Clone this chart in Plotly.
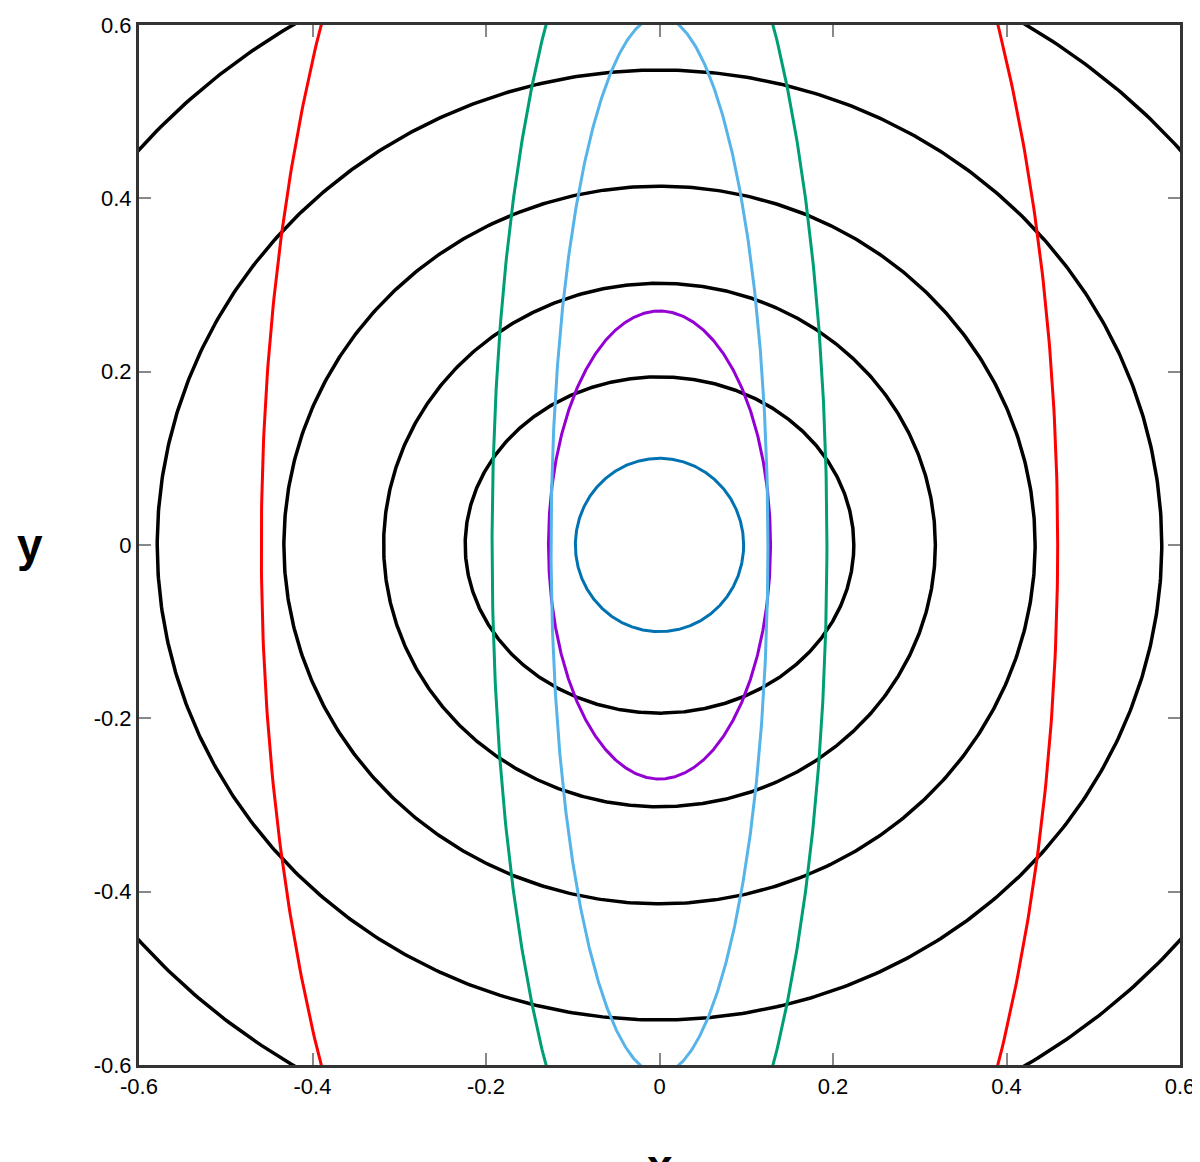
import numpy as np
import plotly.graph_objects as go

# ellipse semi-axes (a along x, b along y)
black_a = [0.224, 0.318, 0.433, 0.579, 0.780]
black_b = [0.194, 0.302, 0.414, 0.548, 0.714]
color_a = [0.097, 0.128, 0.125, 0.193, 0.459]
color_b = [0.100, 0.270, 0.610, 0.817, 1.139]
color_c = ["#0072b2", "#9400d3", "#56b4e9", "#009e73", "#ff0000"]
ticks = [-0.6, -0.4, -0.2, 0, 0.2, 0.4, 0.6]

t = np.linspace(0, 2*np.pi, 721)
fig = go.Figure()
for a, b in zip(black_a, black_b):
    fig.add_trace(go.Scatter(x=a*np.cos(t), y=b*np.sin(t), mode="lines",
                             line=dict(color="black", width=3.5), hoverinfo="skip"))
for a, b, c in zip(color_a, color_b, color_c):
    fig.add_trace(go.Scatter(x=a*np.cos(t), y=b*np.sin(t), mode="lines",
                             line=dict(color=c, width=3), hoverinfo="skip"))

F = "Liberation Sans, Arial"
ax = dict(range=[-0.6, 0.6], tickvals=ticks, ticktext=[f"{v:g}" for v in ticks],
          ticks="inside", ticklen=12, tickcolor="#888", tickwidth=2, automargin=False,
          showgrid=False, zeroline=False, showline=True, linecolor="#333", linewidth=3,
          mirror="ticks", tickfont=dict(family=F, size=22, color="black"))
fig.update_layout(
    width=1200, height=1162, showlegend=False,
    plot_bgcolor="white", paper_bgcolor="white",
    margin=dict(l=131, r=28, t=17, b=105),
    xaxis=dict(**ax), yaxis=dict(**ax),
    annotations=[
        dict(text="<b>x</b>", x=0.5, xref="paper", y=-0.07, yref="paper", yanchor="top",
             showarrow=False, font=dict(family=F, size=46, color="black")),
        dict(text="<b>y</b>", x=-0.09, xref="paper", y=0.5, yref="paper", xanchor="right",
             showarrow=False, font=dict(family=F, size=46, color="black")),
    ],
)
fig.write_html("out.html")
